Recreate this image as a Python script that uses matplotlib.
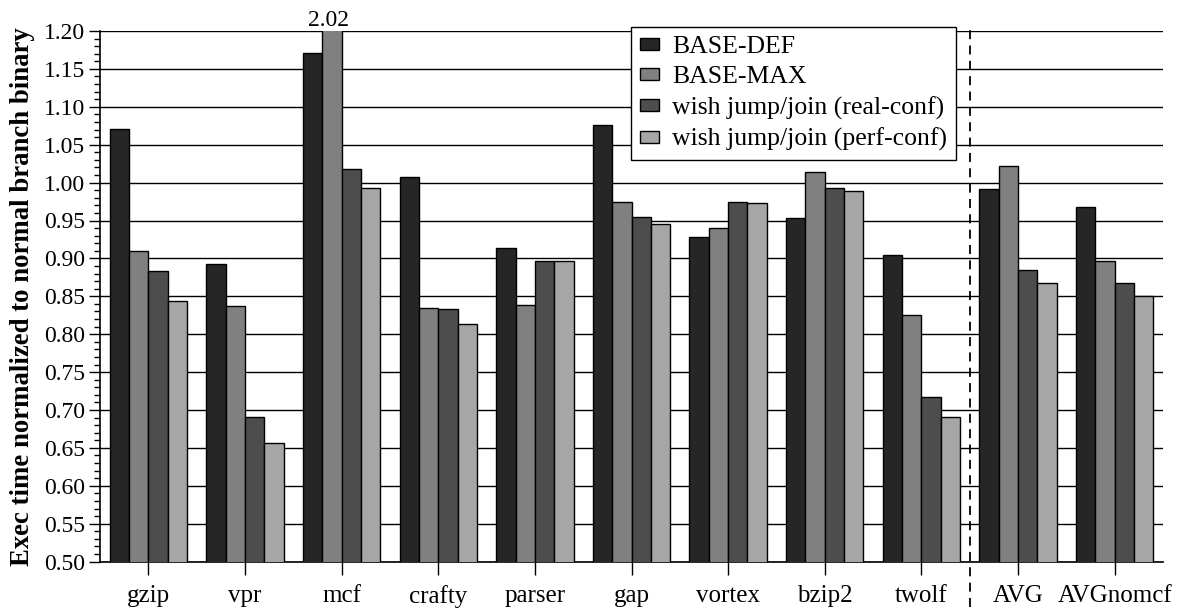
import numpy as np
import matplotlib
matplotlib.use("Agg")
import matplotlib.pyplot as plt
from matplotlib.ticker import MultipleLocator
import matplotlib.transforms as mtransforms

# ---------------------------------------------------------------------- #
# Data
benchmarks = ["gzip", "vpr", "mcf", "crafty", "parser", "gap", "vortex",
              "bzip2", "twolf", "AVG", "AVGnomcf"]
seriesNames = ["BASE-DEF", "BASE-MAX", "wish jump/join (real-conf)",
               "wish jump/join (perf-conf)"]
baseDef = [1.071, 0.892, 1.171, 1.007, 0.914, 1.076, 0.928, 0.953, 0.904, 0.991, 0.968]
baseMax = [0.910, 0.837, 2.02, 0.835, 0.839, 0.975, 0.940, 1.014, 0.825, 1.022, 0.897]
wishReal = [0.884, 0.691, 1.018, 0.833, 0.897, 0.954, 0.974, 0.993, 0.717, 0.885, 0.868]
wishPerf = [0.844, 0.656, 0.993, 0.814, 0.896, 0.945, 0.973, 0.989, 0.691, 0.867, 0.851]
seriesColors = ["#262626", "#808080", "#4d4d4d", "#a6a6a6"]

# ---------------------------------------------------------------------- #
plt.rcParams['font.family'] = ['Liberation Serif', 'DejaVu Serif']

figure = plt.figure(figsize=(11.8, 6.1), dpi=100)
ax = figure.add_axes([100/1180, 1 - 561.6/610, 1063/1180, 530.6/610])

xPos = np.arange(len(benchmarks))
barWidth = 0.2
allSeries = [baseDef, baseMax, wishReal, wishPerf]
for seriesNum, values in enumerate(allSeries):
    offset = (seriesNum - 1.5) * barWidth
    ax.bar(xPos + offset, values, barWidth, color=seriesColors[seriesNum],
           edgecolor="black", linewidth=1.0, label=seriesNames[seriesNum], zorder=3)

# Label for the clipped mcf bar
mcfInd = benchmarks.index("mcf")
ax.annotate("%.2f" % baseMax[mcfInd], xy=(mcfInd - 0.5 * barWidth - 0.035, 1.20),
            xytext=(0, 0), textcoords="offset points", ha="center", va="bottom",
            fontsize=17, annotation_clip=False)

# Axis limits and ticks
ax.set_xlim(-0.5, len(benchmarks) - 0.5)
ax.set_ylim(0.50, 1.20)
ax.yaxis.set_major_locator(MultipleLocator(0.05))
ax.yaxis.set_minor_locator(MultipleLocator(0.01))
ax.yaxis.set_major_formatter(plt.FormatStrFormatter("%.2f"))
ax.set_xticks(xPos)
ax.set_xticklabels(benchmarks)
ax.tick_params(axis="y", which="major", direction="out", length=8, width=1, labelsize=17, pad=3)
ax.tick_params(axis="y", which="minor", direction="out", length=4, width=1)
ax.tick_params(axis="x", which="major", direction="out", length=9, width=1, labelsize=18, pad=8)
ax.grid(axis="y", color="black", linewidth=1.0, zorder=0)
ax.set_axisbelow(True)
for side in ["top", "right"]:
    ax.spines[side].set_visible(False)
ax.spines["left"].set_linewidth(1.2)
ax.spines["bottom"].set_linewidth(1.2)

ax.set_ylabel("Exec time normalized to normal branch binary", fontsize=19.3,
              fontweight="bold", labelpad=6)

# Dashed separator between benchmarks and averages
sepTransform = mtransforms.blended_transform_factory(ax.transData, ax.transAxes)
ax.plot([8.5, 8.5], [-0.086, 1.008], transform=sepTransform, color="black",
        linewidth=1.3, linestyle=(0, (5, 3.5)), clip_on=False, zorder=4)

# Legend
legend = ax.legend(loc="upper left", bbox_to_anchor=(631/1180, 1 - 27/610),
                   bbox_transform=figure.transFigure, fontsize=18.5, frameon=True,
                   fancybox=False, framealpha=1, edgecolor="black",
                   handlelength=0.75, handleheight=0.35, handletextpad=0.5,
                   labelspacing=0.32, borderpad=0.35, borderaxespad=0)
legend.get_frame().set_linewidth(1.0)
legend.set_zorder(5)

plt.savefig("out.png", dpi=100)
